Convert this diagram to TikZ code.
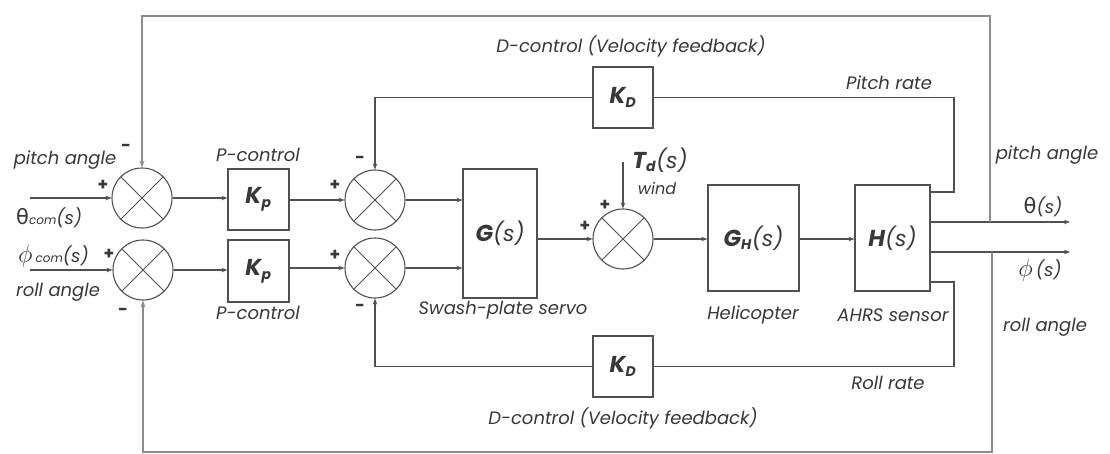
\documentclass[tikz,border=0pt]{standalone}
\usepackage{fontspec}
\setmainfont{Poppins}
\newfontfamily\dejavu{DejaVu Sans}
\usetikzlibrary{arrows.meta,calc}
\definecolor{lnc}{HTML}{505050}
\definecolor{frc}{HTML}{8C8C8C}
\definecolor{txc}{HTML}{383838}
\tikzset{
  ln/.style={draw=lnc,line width=1.1pt},
  arr/.style={ln,-{Stealth[length=6pt,width=4.5pt]}},
  frarr/.style={draw=frc,line width=1.6pt,-{Stealth[length=7pt,width=5pt]}},
  sumj/.style={circle,draw=lnc,line width=1.1pt,minimum size=60pt,inner sep=0pt,
    path picture={\draw[lnc,line width=0.8pt]
      (path picture bounding box.north west)--(path picture bounding box.south east)
      (path picture bounding box.north east)--(path picture bounding box.south west);}},
  blk/.style={draw=lnc,line width=1.1pt,inner sep=0pt,font=\fontsize{23}{26}\selectfont\itshape,text=txc},
  lbl/.style={font=\fontsize{18}{21}\selectfont\itshape,text=txc,inner sep=0pt},
  dlbl/.style={font=\fontsize{18}{21}\selectfont\itshape,text=txc,inner sep=0pt},
  sgn/.style={font=\fontsize{17}{19}\selectfont\bfseries,text=txc,inner sep=0pt},
}
\newcommand{\mysub}[1]{\textsubscript{\fontsize{14}{15}\selectfont\bfseries\itshape #1}}
\newcommand{\ofs}{{\fontsize{22}{24}\selectfont\mdseries\itshape (s)}}
\begin{document}
\begin{tikzpicture}[x=1pt,y=-1pt]
\useasboundingbox[fill=white] (0,0) rectangle (1110,453);
% summing junctions
\node[sumj] (S1) at (142,198) {};
\node[sumj] (S2) at (143,270) {};
\node[sumj] (S3) at (375,200) {};
\node[sumj] (S4) at (375,268) {};
\node[sumj] (S5) at (623,239) {};
% blocks
\node[blk,minimum width=61pt,minimum height=61pt] (Kp1) at (258.5,199.5) {\textbf{K}\mysub{p}};
\node[blk,minimum width=61pt,minimum height=62pt] (Kp2) at (258.5,271) {\textbf{K}\mysub{p}};
\node[blk,minimum width=60pt,minimum height=61pt] (KDt) at (623,97.5) {\textbf{K}\mysub{D}};
\node[blk,minimum width=60pt,minimum height=61pt] (KDb) at (623,366.5) {\textbf{K}\mysub{D}};
\node[blk,minimum width=74pt,minimum height=129pt] (G) at (500,233.5) {\textbf{G}\ofs};
\node[blk,minimum width=91pt,minimum height=106pt] (GH) at (753.5,238) {\textbf{G}\mysub{H}\ofs};
\node[blk,minimum width=75pt,minimum height=106pt] (H) at (892.5,238) {\textbf{H}\ofs};
% coordinates
\coordinate (in1) at (30,198);
\coordinate (in2) at (30,270);
\coordinate (thend) at (1070,222);
\coordinate (phend) at (1070,252);
\coordinate (fbT) at (990,222);
\coordinate (topR) at (990,16);
\coordinate (topL) at (142,16);
\coordinate (fbB) at (992,252);
\coordinate (botR) at (992,452);
\coordinate (botL) at (143,452);
\coordinate (prA) at (954,192);
\coordinate (rrA) at (954,282);
\coordinate (tdtop) at (623,162);
% forward path
\draw[arr] (in1) -- (S1.west);
\draw[arr] (in2) -- (S2.west);
\draw[arr] (S1.east) -- (S1.east -| Kp1.west);
\draw[arr] (S2.east) -- (S2.east -| Kp2.west);
\draw[arr] (Kp1.east |- S3) -- (S3.west);
\draw[arr] (Kp2.east |- S4) -- (S4.west);
\draw[arr] (S3.east) -- (S3.east -| G.west);
\draw[arr] (S4.east) -- (S4.east -| G.west);
\draw[arr] (G.east |- S5) -- (S5.west);
\draw[arr] (tdtop) -- (S5.north);
\draw[arr] (S5.east) -- (S5.east -| GH.west);
\draw[arr] (GH.east |- S5) -- (H.west |- S5);
\draw[arr] (H.east |- thend) -- (thend);
\draw[arr] (H.east |- phend) -- (phend);
% inner feedback
\draw[ln] (H.east |- prA) -- (prA) -- (prA |- KDt) -- (KDt.east);
\draw[arr] (KDt.west) -- (S3 |- KDt) -- (S3.north);
\draw[ln] (H.east |- rrA) -- (rrA) -- (rrA |- KDb) -- (KDb.east);
\draw[arr] (KDb.west) -- (S4 |- KDb) -- (S4.south);
% outer feedback
\draw[frarr] (fbT) -- (topR) -- (topL) -- (S1.north);
\draw[frarr] (fbB) -- (botR) -- (botL) -- (S2.south);
% labels
\node[lbl] (lpa) at (65,160) {pitch angle};
\node[sgn] (m1) at (126,148) {-};
\node[sgn] (p1) at (103,185) {+};
\node[lbl,anchor=west] (thc) at (16,218) {{\dejavu\upshape\fontsize{21}{22}\selectfont θ}{\fontsize{12}{13}\selectfont com}(s)};
\node[lbl,anchor=west] (phc) at (18,256) {{\upshape\fontsize{24}{24}\selectfont$\phi$}\,{\fontsize{12}{13}\selectfont com}(s)};
\node[sgn] (p2) at (109,254) {+};
\node[lbl] (lra) at (58,292) {roll angle};
\node[sgn] (m2) at (123,312) {-};
\node[lbl] (pc1) at (258,155) {P-control};
\node[lbl] (pc2) at (258,313) {P-control};
\node[sgn] (p3) at (335,185) {+};
\node[sgn] (m3) at (360,160) {-};
\node[sgn] (p4) at (335,255) {+};
\node[sgn] (m4) at (360,308) {-};
\node[sgn] (p5) at (605,205) {+};
\node[sgn] (p6) at (585,226) {+};
\node[lbl,font=\fontsize{23}{26}\selectfont\itshape] (td) at (660,160) {\textbf{T}\mysub{d}\ofs};
\node[lbl,font=\fontsize{16}{18}\selectfont\itshape] (wind) at (657,188) {wind};
\node[lbl] (sps) at (503,310) {Swash-plate servo};
\node[lbl] (heli) at (753,315) {Helicopter};
\node[lbl] (ahrs) at (893,315) {AHRS sensor};
\node[dlbl] (dct) at (631,46) {D-control (Velocity feedback)};
\node[dlbl] (dcb) at (623,418) {D-control (Velocity feedback)};
\node[lbl] (prt) at (889,83) {Pitch rate};
\node[lbl] (rrt) at (888,383) {Roll rate};
\node[lbl] (rpa) at (1047,155) {pitch angle};
\node[lbl] (ths) at (1043,207) {{\dejavu\upshape\fontsize{21}{22}\selectfont θ}(s)};
\node[lbl] (phs) at (1040,270) {{\upshape\fontsize{24}{24}\selectfont$\phi$}\,(s)};
\node[lbl] (rra) at (1045,327) {roll angle};
\end{tikzpicture}
\end{document}
